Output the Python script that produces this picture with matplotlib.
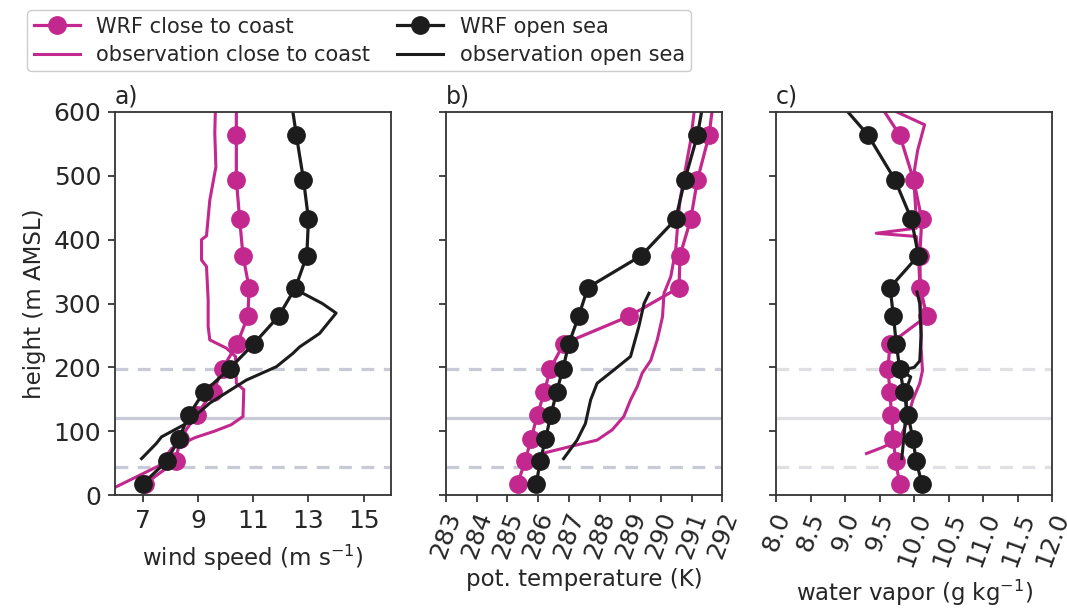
import matplotlib
matplotlib.use('Agg')
import matplotlib.pyplot as plt
import numpy as np

# WRF model levels (m)
wrf_h = [18, 53, 88, 126, 161, 198, 237, 280, 325, 375, 432, 494, 564, 640]

# a) wind speed
wrf_ws_coast = [7.1, 8.2, 8.35, 8.95, 9.54, 9.89, 10.42, 10.81, 10.85, 10.63, 10.51, 10.39, 10.39, 10.39]
wrf_ws_sea = [7.02, 7.87, 8.31, 8.68, 9.21, 10.15, 11.02, 11.92, 12.53, 12.94, 13.0, 12.82, 12.56, 12.3]
obs_ws_coast_h = [5, 12, 46, 73, 90, 100, 110, 123, 165, 175, 217, 230, 243, 264, 306, 358, 368, 400, 406, 462, 514, 567, 600]
obs_ws_coast = [5.8, 6.0, 7.6, 8.05, 8.9, 9.6, 10.2, 10.63, 10.66, 10.39, 10.36, 10.03, 9.43, 9.37, 9.37, 9.31, 9.13, 9.13, 9.31, 9.43, 9.65, 9.61, 9.63]
obs_ws_sea_h = [57, 81, 91, 112, 144, 180, 201, 222, 232, 253, 285, 300, 316]
obs_ws_sea = [6.96, 7.5, 7.68, 8.58, 9.43, 10.75, 11.84, 12.44, 12.68, 13.4, 14.0, 13.5, 12.8]

# b) potential temperature
wrf_th_coast = [285.33, 285.58, 285.77, 285.98, 286.2, 286.4, 286.83, 288.96, 290.59, 290.62, 290.97, 291.19, 291.57, 291.76]
wrf_th_sea = [285.94, 286.07, 286.24, 286.42, 286.6, 286.81, 287.0, 287.32, 287.62, 289.36, 290.48, 290.78, 291.19, 291.47]
obs_th_coast_h = [65, 76, 86, 102, 123, 149, 170, 191, 211, 243, 279, 316, 342, 384, 420, 462, 514, 556, 600]
obs_th_coast = [286.13, 287.05, 287.92, 288.41, 288.79, 289.01, 289.23, 289.39, 289.67, 289.88, 290.05, 290.1, 290.32, 290.48, 290.54, 290.62, 290.81, 290.97, 291.08]
obs_th_sea_h = [57, 86, 112, 149, 175, 196, 217, 264, 300, 316]
obs_th_sea = [286.83, 287.27, 287.54, 287.71, 287.92, 288.47, 289.01, 289.28, 289.45, 289.61]

# c) water vapor
wrf_q_coast = [9.79, 9.73, 9.70, 9.67, 9.65, 9.62, 9.65, 10.18, 10.09, 10.08, 10.11, 9.99, 9.79, 9.33]
wrf_q_sea = [10.11, 10.03, 9.98, 9.91, 9.85, 9.79, 9.74, 9.70, 9.65, 10.06, 9.96, 9.72, 9.33, 8.72]
obs_q_coast_h = [65, 75, 88, 110, 149, 175, 195, 230, 280, 330, 380, 405, 410, 418, 450, 500, 540, 580, 600]
obs_q_coast = [9.31, 9.55, 9.79, 9.88, 9.98, 10.08, 10.12, 10.10, 10.10, 10.08, 10.06, 10.03, 9.45, 10.03, 10.02, 9.99, 10.05, 10.15, 9.75]
obs_q_sea_h = [57, 100, 136, 170, 185, 195, 200, 210, 250, 300, 318]
obs_q_sea = [9.82, 9.86, 9.88, 9.90, 9.95, 9.80, 10.0, 10.08, 10.10, 10.08, 10.04]

# rotor area / hub height
hub = 120
rotor = [44, 197]

magenta = '#c2288e'
black = '#1c1c1c'
grey = '#c8cad6'

plt.rcParams['font.family'] = ['DejaVu Sans']
plt.rcParams['text.color'] = '#262626'
plt.rcParams['axes.labelcolor'] = '#262626'
plt.rcParams['xtick.color'] = '#262626'
plt.rcParams['ytick.color'] = '#262626'

fig = plt.figure(figsize=(10.67, 6.14), dpi=100)
lefts = [0.1078, 0.418, 0.7273]
w = 0.259
axs = [fig.add_axes([l, 0.1938, w, 0.6238]) for l in lefts]

panels = [
    (wrf_ws_coast, wrf_ws_sea, obs_ws_coast_h, obs_ws_coast, obs_ws_sea_h, obs_ws_sea),
    (wrf_th_coast, wrf_th_sea, obs_th_coast_h, obs_th_coast, obs_th_sea_h, obs_th_sea),
    (wrf_q_coast, wrf_q_sea, obs_q_coast_h, obs_q_coast, obs_q_sea_h, obs_q_sea),
]
mk = dict(marker='o', markersize=12.5, lw=2.3)
for i, (ax, p) in enumerate(zip(axs, panels)):
    gc = grey if i < 2 else '#e0e0e4'
    ax.axhline(hub, color=gc, lw=2.3, zorder=1)
    for r in rotor:
        ax.axhline(r, color=gc, lw=2.3, ls=(0, (4, 3)), zorder=1)
    ax.plot(p[0], wrf_h, color=magenta, label='WRF close to coast', **mk)
    ax.plot(p[3], p[2], color=magenta, lw=2.2, label='observation close to coast')
    ax.plot(p[1], wrf_h, color=black, label='WRF open sea', **mk)
    ax.plot(p[5], p[4], color=black, lw=2.2, label='observation open sea')
    ax.set_ylim(0, 600)
    ax.set_yticks(np.arange(0, 601, 100))
    ax.tick_params(labelsize=18, length=5, width=1.2, pad=5)
    for s in ax.spines.values():
        s.set_linewidth(1.3)
        s.set_color('#333333')
    ax.text(0.0, 1.01, 'abc'[i] + ')', transform=ax.transAxes, fontsize=17, va='bottom')

axs[0].set_xlim(6, 16)
axs[0].set_xticks([7, 9, 11, 13, 15])
axs[0].set_xlabel('wind speed (m s$^{-1}$)', fontsize=16.5, labelpad=7)
axs[0].set_ylabel('height (m AMSL)', fontsize=16.5, labelpad=5)

axs[1].set_xlim(283, 292)
axs[1].set_xticks(np.arange(283, 293, 1))
axs[1].tick_params(axis='x', labelrotation=70)
axs[1].set_xlabel('pot. temperature (K)', fontsize=16.5, labelpad=4)
axs[1].set_yticklabels([])

axs[2].set_xlim(8, 12)
axs[2].set_xticks(np.arange(8, 12.01, 0.5))
axs[2].set_xticklabels(['%.1f' % v for v in np.arange(8, 12.01, 0.5)])
axs[2].tick_params(axis='x', labelrotation=70)
axs[2].set_xlabel('water vapor (g kg$^{-1}$)', fontsize=16.5, labelpad=6)
axs[2].set_yticklabels([])

h, l = axs[0].get_legend_handles_labels()
fig.legend(h, l, ncol=2, fontsize=15, loc='upper left',
           bbox_to_anchor=(0.016, 1.0), columnspacing=1.3,
           handlelength=2.2, borderpad=0.3, labelspacing=0.4, framealpha=1)

fig.savefig('out.png', dpi=100)
